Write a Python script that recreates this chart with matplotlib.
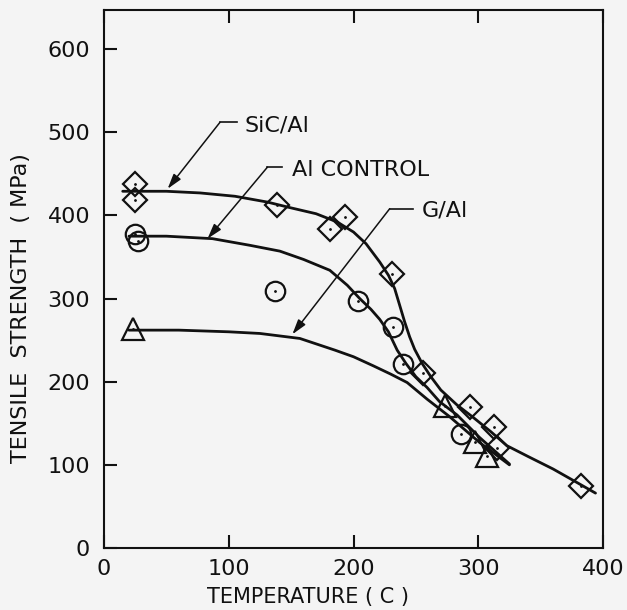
import matplotlib
matplotlib.use("Agg")
import matplotlib.pyplot as plt

# ---- data ----
# measured points
sic_T = [25, 25, 139, 181, 193, 231, 256, 293, 313, 315, 382]
sic_S = [438, 418, 412, 384, 398, 330, 211, 170, 146, 120, 74]
al_T = [25, 27, 137, 204, 232, 240, 286]
al_S = [378, 369, 309, 297, 266, 221, 137]
ga_T = [23, 273, 297, 307]
ga_S = [263, 171, 128, 111]

# fitted curves
sic_fit_T = [15, 50, 77, 105, 131, 150, 170, 187, 200, 210, 221, 228, 233, 237,
             241, 245, 249, 255, 262, 270, 283, 296, 310, 323, 340, 360, 380, 394]
sic_fit_S = [429, 429, 427, 423, 416, 409, 402, 392, 380, 366, 344, 328, 312, 292,
             272, 254, 239, 222, 206, 190, 172, 157, 140, 123, 110, 95, 78, 66]
al_fit_T = [20, 50, 87, 117, 141, 160, 181, 195, 205, 214, 221, 228, 235, 242,
            250, 259, 269, 283, 301, 325]
al_fit_S = [375, 375, 372, 364, 357, 347, 334, 316, 300, 287, 275, 260, 238, 222,
            206, 193, 176, 160, 133, 101]
ga_fit_T = [20, 60, 100, 125, 157, 185, 200, 216, 230, 243, 259, 277, 301, 325]
ga_fit_S = [262, 262, 260, 258, 252, 238, 230, 219, 209, 199, 179, 158, 127, 100]

labels = ["SiC/Al", "Al CONTROL", "G/Al"]
x_ticks = [0, 100, 200, 300, 400]
y_ticks = [0, 100, 200, 300, 400, 500, 600]

INK = "#111111"
BG = "#f4f4f4"

fig = plt.figure(figsize=(6.27, 6.10), dpi=100, facecolor=BG)
ax = fig.add_axes([104/627, 62/610, 499/627, 538/610], facecolor=BG)

ax.set_xlim(0, 400)
ax.set_ylim(0, 647)

lw = 2.0
ax.plot(sic_fit_T, sic_fit_S, color=INK, lw=lw, solid_capstyle='round', zorder=2)
ax.plot(al_fit_T, al_fit_S, color=INK, lw=lw, solid_capstyle='round', zorder=2)
ax.plot(ga_fit_T, ga_fit_S, color=INK, lw=lw, solid_capstyle='round', zorder=2)

mk = dict(linestyle='none', markerfacecolor='none', markeredgecolor=INK,
          markeredgewidth=1.6, zorder=3)
ax.plot(sic_T, sic_S, marker='D', markersize=12.5, **mk)
ax.plot(al_T, al_S, marker='o', markersize=14, **mk)
ax.plot(ga_T, ga_S, marker='^', markersize=16, **mk)
for T, S in [(sic_T, sic_S), (al_T, al_S), (ga_T, ga_S)]:
    ax.plot(T, S, linestyle='none', marker='.', markersize=2, color=INK, zorder=4)

# annotations: (text pos, elbow, horizontal end, arrow tip)
ann = [
    (labels[0], (113, 508), (93, 512), (107, 512), (51, 432)),
    (labels[1], (151, 455), (131, 458), (143, 458), (83, 372)),
    (labels[2], (255, 406), (229, 408), (248, 408), (151, 257)),
]
for txt, tpos, elbow, hend, tip in ann:
    ax.plot([elbow[0], hend[0]], [elbow[1], hend[1]], color=INK, lw=1.2)
    ax.annotate("", xy=tip, xytext=elbow,
                arrowprops=dict(arrowstyle='-|>,head_length=0.5,head_width=0.15',
                                mutation_scale=18, color=INK, lw=1.1,
                                shrinkA=0, shrinkB=0))
    ax.text(tpos[0], tpos[1], txt, fontsize=16, color=INK, ha='left', va='center')

ax.set_xticks(x_ticks)
ax.set_yticks(y_ticks)
ax.set_xticklabels([str(v) for v in x_ticks])
ax.set_yticklabels([str(v) for v in y_ticks])
ax.tick_params(axis='both', direction='in', length=9.5, width=1.5, colors=INK,
               labelsize=16, top=True, right=False)
ax.tick_params(axis='x', pad=8)
ax.tick_params(axis='y', pad=10)
for s in ax.spines.values():
    s.set_linewidth(1.5)
    s.set_color(INK)

ax.set_xlabel("TEMPERATURE ( C )", fontsize=15, color=INK)
ax.set_ylabel("TENSILE  STRENGTH  ( MPa)", fontsize=16, color=INK)
ax.xaxis.set_label_coords(0.408, -0.072)
ax.xaxis.label.set_va('top')
ax.yaxis.set_label_coords(-0.146, 0.446)

fig.savefig("out.png", dpi=100, facecolor=BG)
